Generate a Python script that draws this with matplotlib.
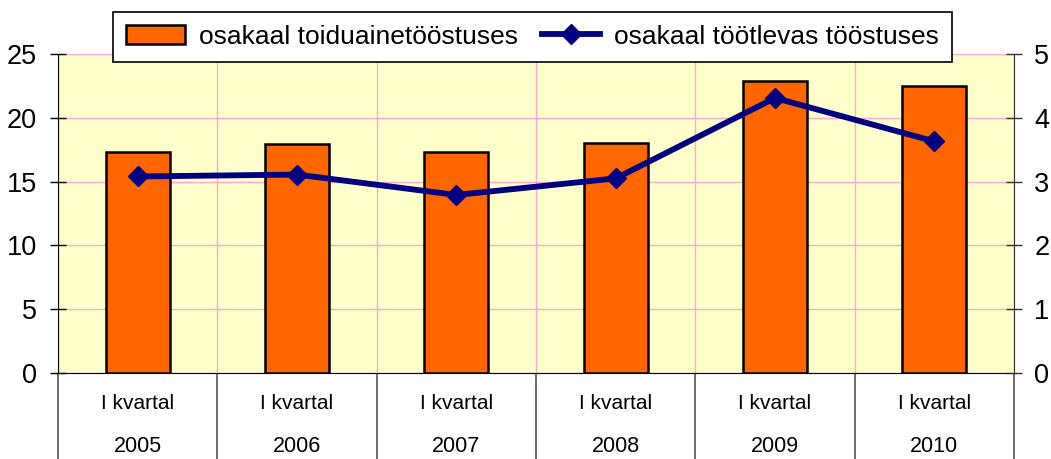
import matplotlib.pyplot as plt
import numpy as np

plt.rcParams['font.family'] = ['Liberation Sans', 'DejaVu Sans']

years = ['2005', '2006', '2007', '2008', '2009', '2010']
quarter = 'I kvartal'
food_share = [17.3, 17.95, 17.3, 18.05, 22.9, 22.5]        # left axis, bars
manuf_share = [3.08, 3.11, 2.79, 3.05, 4.31, 3.63]         # right axis, line

x = np.arange(len(years))

fig = plt.figure(figsize=(10.51, 4.59), dpi=100)
ax = fig.add_axes([0.0552, 0.1874, 0.9096, 0.695])
ax.set_facecolor('#FFFFCC')

bars = ax.bar(x, food_share, width=0.4, color='#FF6600', edgecolor='black',
              linewidth=1.8, zorder=3, label='osakaal toiduainetööstuses')
ax.set_xlim(-0.5, len(years) - 0.5)
ax.set_ylim(0, 25)
ax.set_yticks(np.arange(0, 26, 5))

# vertical grid + category separators on minor ticks
ax.set_xticks(np.arange(-0.5, len(years), 1.0), minor=True)
ax.set_xticks(x)
ax.set_xticklabels([])
ax.tick_params(axis='x', which='major', length=0)
ax.tick_params(axis='x', which='minor', direction='out', length=62,
               color='#555555', width=1.2)
ax.grid(True, axis='y', color='#FFA8D0', linewidth=1, zorder=0)
ax.grid(True, axis='x', which='minor', color='#FFA8D0', linewidth=1, zorder=0)
ax.set_axisbelow(True)

ax.tick_params(axis='y', direction='inout', length=12, width=1,
               labelsize=19.5, pad=9)
ax.spines['top'].set_visible(False)
ax.spines['right'].set_visible(False)
ax.spines['left'].set_color('black')
ax.spines['bottom'].set_color('black')

for i, yr in enumerate(years):
    ax.text(i, -0.097, quarter, transform=ax.get_xaxis_transform(),
            ha='center', va='center', fontsize=15)
    ax.text(i, -0.232, yr, transform=ax.get_xaxis_transform(),
            ha='center', va='center', fontsize=15.5)

ax2 = ax.twinx()
line, = ax2.plot(x, manuf_share, color='#000080', linewidth=4.2,
                 marker='D', markersize=10.5, zorder=4,
                 label='osakaal töötlevas tööstuses')
ax2.set_ylim(0, 5)
ax2.set_yticks(np.arange(0, 6, 1))
ax2.tick_params(axis='y', direction='inout', length=11, width=1,
                labelsize=19.5, pad=9, color='#303030')
ax2.spines['top'].set_visible(False)
ax2.spines['left'].set_visible(False)
ax2.spines['bottom'].set_visible(False)
ax2.spines['right'].set_color('#303030')

leg = fig.legend([bars, line], [bars.get_label(), line.get_label()],
                 loc='center', bbox_to_anchor=(0.507, 0.92), ncol=2,
                 fontsize=19, frameon=True, fancybox=False,
                 edgecolor='black', framealpha=1, handlelength=2.2,
                 handleheight=0.75, handletextpad=0.55, columnspacing=0.9,
                 borderpad=0.5)
leg.get_frame().set_linewidth(1.2)

fig.savefig('out.png', dpi=100)
